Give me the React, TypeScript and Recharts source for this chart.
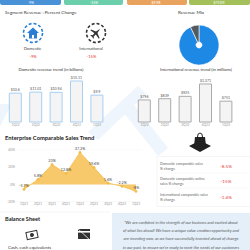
import { PieChart, Pie, Cell, BarChart, Bar, XAxis, YAxis, LabelList, AreaChart, Area, CartesianGrid } from "recharts";

const trendQuarters = ["1Q22", "2Q22", "3Q22", "4Q22", "1Q23"];
const domesticRevenue = [10.64, 11.01, 10.94, 15.11, 9.9];
const domesticLabels = ["$10.6", "$11.01", "$10.94", "$15.11", "$9.9"];
const intlRevenue = [796, 839, 925, 1371, 751];
const intlLabels = ["$796", "$839", "$925", "$1,371", "$751"];

const compQuarters = ["1Q21", "2Q21", "3Q21", "4Q21", "1Q22", "2Q22", "3Q22", "4Q22", "1Q23"];
const compSales = [-5.7, 5.8, 23, 12.8, 37.2, 19.6, 1.6, -2.2, -8];

const mixNames = ["Domestic", "International"];
const mixValues = [93, 7];
const mixColors = ["#1e88e5", "#555a5e"];

const compRows = ["Domestic comparable sales|% change", "Domestic comparable online|sales % change", "International comparable sales|% change"];
const compValues = ["-8.5%", "-15%", "-1.4%"];

const quoteLines = [
  "\u201CWe are confident in the strength of our business and excited about",
  "of what lies ahead! We have a unique value creation opportunity and",
  "are investing now, as we have successfully invested ahead of change",
  "in our past, to ensure we're ready to meet the needs of our customers",
];

const domesticData = trendQuarters.map((q, i) => ({ q, v: domesticRevenue[i], label: domesticLabels[i] }));
const intlData = trendQuarters.map((q, i) => ({ q, v: intlRevenue[i], label: intlLabels[i] }));
const compData = compQuarters.map((q, i) => ({ q, v: compSales[i] }));
const mixData = mixNames.map((name, i) => ({ name, value: mixValues[i] }));

const font = "Lato, 'Open Sans', sans-serif";
const abs = (left: number, top: number) => ({ position: "absolute" as const, left, top });

function Backdrop() {
  return (
    <svg width={250} height={250} style={abs(0, 0)}>
      {/* faint watermark */}
      <polygon points="88,132 138,86 146,94 98,140" fill="#eef5fc" />
      <polygon points="120,108 130,100 168,148 158,156" fill="#eef5fc" />
      <polygon points="0,104 12,104 0,126" fill="#eef5fc" />

      {/* top cards */}
      <rect x={0} y={-4} width={61} height={9} rx={2} fill="#4a92d8" />
      <rect x={64} y={-4} width={59} height={9} rx={2} fill="#6ccfab" />
      <rect x={127} y={-4} width={60} height={9} rx={2} fill="#eaa35f" />
      <rect x={189} y={-4} width={61} height={9} rx={2} fill="#a3c05a" />
      <g fontSize={3.4} fill="#fff" textAnchor="middle">
        <text x={31} y={3.6}>-9%</text>
        <text x={94} y={3.6}>-15%</text>
        <text x={156} y={3.6}>$9.9B</text>
        <text x={219} y={3.6}>$751M</text>
      </g>

      <text x={5} y={13.5} fontSize={4.6} fill="#333">Segment Revenue : Percent Change</text>
      <text x={191} y={13.5} fontSize={4.6} fill="#333" textAnchor="middle">Revenue Mix</text>

      {/* domestic icon */}
      <circle cx={33} cy={33} r={9.5} fill="none" stroke="#2a7fd4" strokeWidth={1.6} strokeDasharray="3 2" />
      <polygon points="27,33 33,27.5 39,33" fill="#2a7fd4" />
      <rect x={29} y={33} width={8} height={5.5} fill="#2a7fd4" />
      <rect x={32} y={35} width={2} height={3.5} fill="#fff" />
      {/* international icon */}
      <circle cx={96} cy={33} r={9.5} fill="none" stroke="#333" strokeWidth={1.6} strokeDasharray="3 2" />
      <path
        transform="translate(96,33) rotate(45)"
        d="M0,-6 L1,-1 L6,1 L6,2 L1,1.2 L0.8,4 L2,5 L2,6 L0,5.3 L-2,6 L-2,5 L-0.8,4 L-1,1.2 L-6,2 L-6,1 L-1,-1 Z"
        fill="#333"
      />
      <g fontSize={4.2} textAnchor="middle">
        <text x={32.5} y={50} fill="#444">Domestic</text>
        <text x={91} y={50} fill="#444">International</text>
        <text x={33} y={58} fill="#e53935">-9%</text>
        <text x={91.5} y={58} fill="#e53935">-15%</text>
      </g>

      <g fontSize={4.2} fill="#333" textAnchor="middle">
        <text x={51} y={70.5}>Domestic revenue trend (in billions)</text>
        <text x={196} y={70.5}>International revenue trend (in millions)</text>
      </g>

      <text x={5} y={139.8} fontSize={5.8} fontWeight="bold" fill="#222">Enterprise Comparable Sales Trend</text>

      {/* bag icon */}
      <polygon points="189,146 200,140.5 211,146 200,152" fill="#222" />
      <path d="M195,137 L205,137 L206,146 L194,146 Z" fill="#222" />
      <path d="M197.5,137 Q197.5,133 200,133 Q202.5,133 202.5,137" fill="none" stroke="#222" strokeWidth={1} />

      {/* comparable sales box */}
      <rect x={157} y={156.5} width={95} height={50} fill="#fff" stroke="#eee" strokeWidth={0.6} />
      {compRows.map((r, i) => {
        const y = [165, 180, 196][i];
        const [a, b] = r.split("|");
        return (
          <g key={r}>
            <text x={160} y={y} fontSize={3.6} fill="#666">{a}</text>
            <text x={160} y={y + 4.5} fontSize={3.6} fill="#666">{b}</text>
            <text x={226} y={y + 3} fontSize={4.6} fill="#e53935" textAnchor="middle">{compValues[i]}</text>
            {i < 2 && <line x1={160} x2={248} y1={y + 8} y2={y + 8} stroke="#f0f0f0" strokeWidth={0.5} />}
          </g>
        );
      })}

      <line x1={0} x2={110} y1={212} y2={212} stroke="#eee" strokeWidth={0.6} />
      <text x={5} y={221} fontSize={5.6} fontWeight="bold" fill="#222">Balance Sheet</text>

      {/* cash icon */}
      <g transform="translate(32,235) rotate(-12)">
        <rect x={-6} y={-4} width={12} height={8} fill="#333" />
        <rect x={-5} y={-3} width={10} height={6} fill="#fff" />
        <circle cx={0} cy={0} r={2} fill="#333" />
      </g>
      {/* card icon */}
      <rect x={78} y={229} width={12} height={10} fill="#333" />
      <rect x={78} y={231} width={12} height={1.6} fill="#fff" />
      <line x1={76} y1={227} x2={91} y2={241} stroke="#fff" strokeWidth={0.8} />
      <text x={8} y={248.5} fontSize={4.4} fill="#333">Cash, cash equivalents</text>

      {/* quote box */}
      <rect x={112} y={213} width={140} height={40} fill="#e4effa" />
      <g fontSize={4.1} fontStyle="italic" fill="#555" textAnchor="middle">
        {quoteLines.map((l, i) => (
          <text key={i} x={181} y={224 + i * 8.2}>{l}</text>
        ))}
      </g>
    </svg>
  );
}

function TrendBars({ data, left, top, max, stroke, marginTop }: any) {
  return (
    <BarChart
      width={112}
      height={56}
      data={data}
      style={abs(left, top)}
      margin={{ top: marginTop, right: 4.7, left: 5.3, bottom: 0 }}
    >
      <XAxis
        dataKey="q"
        height={8}
        interval={0}
        axisLine={false}
        tickLine={false}
        tickSize={0}
        tickMargin={1.5}
        tick={{ fontSize: 3.2, fill: "#999" }}
      />
      <YAxis hide domain={[0, max]} />
      <Bar dataKey="v" barSize={12} fill="#f4f4f4" stroke={stroke} strokeWidth={1} isAnimationActive={false}>
        <LabelList dataKey="label" position="top" offset={2} style={{ fontSize: 3.6, fill: "#555" }} />
      </Bar>
    </BarChart>
  );
}

export default function App() {
  return (
    <div style={{ position: "absolute", left: 0, top: 0, width: 250, height: 250, overflow: "hidden", background: "#fff", fontFamily: font }}>
      <Backdrop />

      <PieChart width={50} height={50} style={abs(169, 15)}>
        <Pie
          data={mixData}
          dataKey="value"
          cx={25}
          cy={25}
          innerRadius={3}
          outerRadius={20}
          startAngle={90}
          endAngle={-270}
          stroke="#fff"
          strokeWidth={0.6}
          isAnimationActive={false}
        >
          {mixData.map((d, i) => (
            <Cell key={d.name} fill={mixColors[i]} />
          ))}
        </Pie>
      </PieChart>

      <TrendBars data={domesticData} left={0} top={74} max={16} stroke="#a6cff2" marginTop={4.6} />
      <TrendBars data={intlData} left={129} top={74} max={1500} stroke="#aaaaaa" marginTop={6.4} />

      <AreaChart width={145} height={66} data={compData} style={abs(0, 144)} margin={{ top: 6, right: 3, left: 0, bottom: 0 }}>
        <CartesianGrid vertical={false} stroke="#f2f2f2" strokeWidth={0.5} />
        <XAxis
          dataKey="q"
          height={8.4}
          interval={0}
          padding={{ left: 6, right: 6 }}
          axisLine={false}
          tickLine={false}
          tickSize={0}
          tickMargin={1.5}
          tick={{ fontSize: 3.2, fill: "#999" }}
        />
        <YAxis
          width={18}
          domain={[-20, 40]}
          ticks={[-20, 0, 20, 40]}
          tickFormatter={(v: number) => v + "%"}
          axisLine={false}
          tickLine={false}
          tickSize={0}
          tickMargin={3}
          tick={{ fontSize: 3.4, fill: "#999" }}
        />
        <Area
          type="linear"
          dataKey="v"
          stroke="#f2bb47"
          strokeWidth={0.8}
          fill="#f6c35b"
          fillOpacity={0.9}
          dot={{ r: 1.1, fill: "#f2bb47", stroke: "#f2bb47" }}
          isAnimationActive={false}
        >
          <LabelList dataKey="v" position="top" offset={2.5} formatter={(v: any) => v + "%"} style={{ fontSize: 3.8, fill: "#444" }} />
        </Area>
      </AreaChart>
    </div>
  );
}
